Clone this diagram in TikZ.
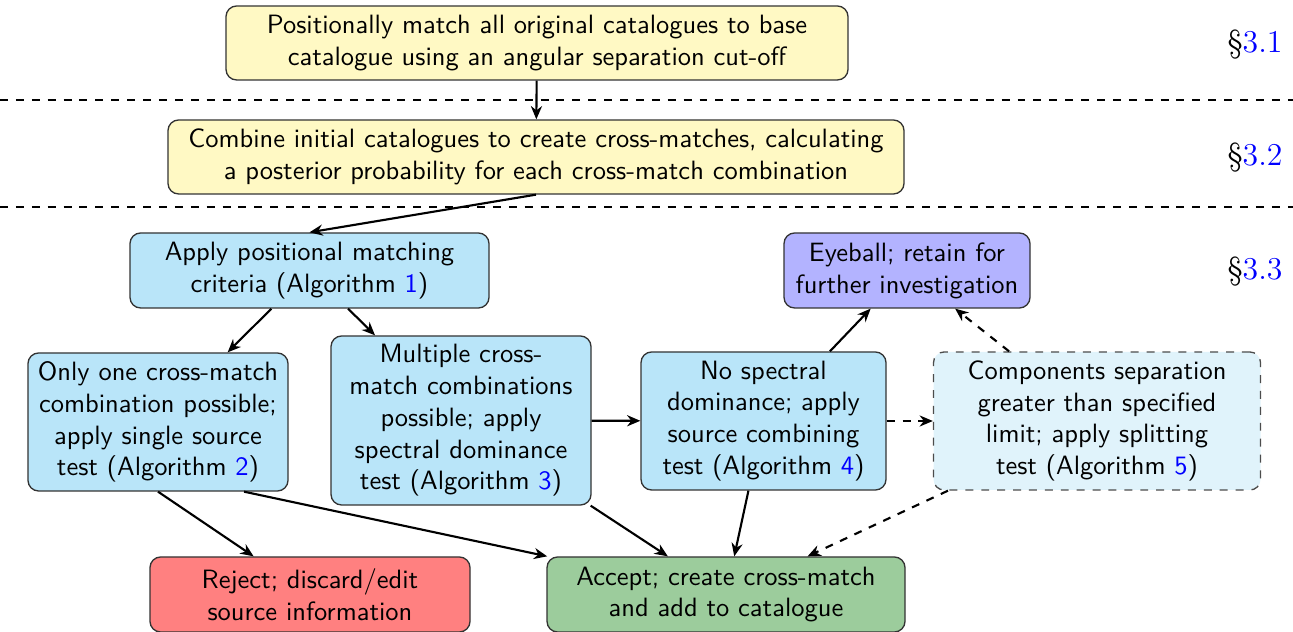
\documentclass[tikz,border=0pt]{standalone}
\usetikzlibrary{arrows.meta}
\definecolor{cyel}{RGB}{255,249,196}
\definecolor{cblu}{RGB}{185,229,249}
\definecolor{ceye}{RGB}{179,179,255}
\definecolor{crej}{RGB}{255,128,128}
\definecolor{cacc}{RGB}{156,204,156}
\definecolor{ccomp}{RGB}{224,243,251}
\def\pxu{0.3774pt}
\begin{document}
\begin{tikzpicture}[x=0.3774pt,y=-0.3774pt,
  box/.style={draw=black!80, rounded corners=4pt, align=center, font=\sffamily, inner sep=0pt, line width=0.5pt},
  sz/.style 2 args={minimum width=#1*\pxu, minimum height=#2*\pxu},
  arr/.style={-{Stealth[length=5pt,width=4.2pt]}, line width=0.8pt},
  darr/.style={arr, dashed},
  sep/.style={dashed, line width=0.5pt},
  sec/.style={font=\large, anchor=east, inner sep=0pt}]
\useasboundingbox (0,0) rectangle (1293,632);

\draw[sep] (0,100) coordinate (l1a) -- (1293,100) coordinate (l1b);
\draw[sep] (0,207) coordinate (l2a) -- (1293,207) coordinate (l2b);

\node[box, fill=cyel, sz={622}{74}] (b1) at (537,43)
  {Positionally match all original catalogues to base\\catalogue using an angular separation cut-off};
\node[box, fill=cyel, sz={736}{74}] (b2) at (536,157)
  {Combine initial catalogues to create cross-matches, calculating\\a posterior probability for each cross-match combination};
\node[box, fill=cblu, sz={359}{75}] (apply) at (309.5,270.5)
  {Apply positional matching\\criteria (Algorithm \textcolor{blue}{1})};
\node[box, fill=ceye, sz={246}{75}] (eye) at (907,270.5)
  {Eyeball; retain for\\further investigation};
\node[box, fill=cblu, sz={260}{138}] (only) at (158,422)
  {Only one cross-match\\combination possible;\\apply single source\\test (Algorithm \textcolor{blue}{2})};
\node[box, fill=cblu, sz={260}{169}] (multi) at (461,420.5)
  {Multiple cross-\\match combinations\\possible; apply\\spectral dominance\\test (Algorithm \textcolor{blue}{3})};
\node[box, fill=cblu, sz={245}{138}] (nospec) at (763.5,421)
  {No spectral\\dominance; apply\\source combining\\test (Algorithm \textcolor{blue}{4})};
\node[box, fill=ccomp, draw=black!70, dashed, sz={327}{138}] (comp) at (1097,421)
  {Components separation\\greater than specified\\limit; apply splitting\\test (Algorithm \textcolor{blue}{5})};
\node[box, fill=crej, sz={320}{75}] (reject) at (310,594.5)
  {Reject; discard/edit\\source information};
\node[box, fill=cacc, sz={358}{75}] (accept) at (726,594.5)
  {Accept; create cross-match\\and add to catalogue};

\node[sec] (s1) at (1283,45) {\S\textcolor{blue}{3.1}};
\node[sec] (s2) at (1283,158) {\S\textcolor{blue}{3.2}};
\node[sec] (s3) at (1283,272) {\S\textcolor{blue}{3.3}};

\draw[arr] (b1) -- (b2);
\draw[arr] (b2.south) -- (apply.north);
\draw[arr] (apply) -- (only);
\draw[arr] (apply) -- (multi);
\draw[arr] (multi) -- (nospec);
\draw[arr] (nospec) -- (eye);
\draw[darr] (nospec) -- (comp);
\draw[darr] (comp) -- (eye);
\draw[arr] (only.south) -- (reject);
\draw[arr] ([xshift=86*\pxu]only.south) -- (accept);
\draw[arr] (multi) -- (accept);
\draw[arr] (nospec) -- (accept);
\draw[darr] (comp) -- (accept);
\end{tikzpicture}
\end{document}
